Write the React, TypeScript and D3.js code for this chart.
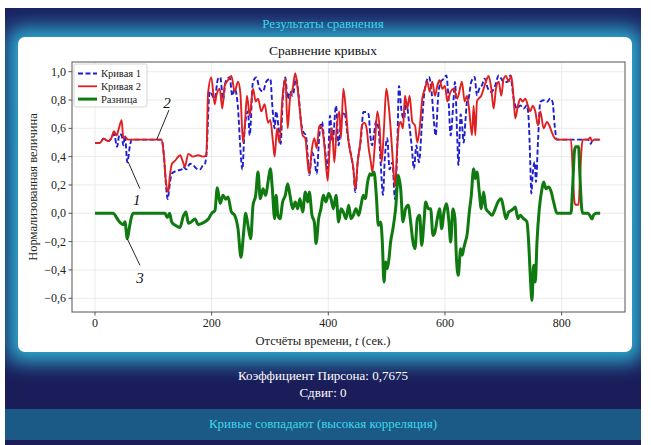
import React from 'react';
import * as d3 from 'd3';

// ---- data (t in samples, normalized values) ----
const curve1T = [0,8.6,14.3,22.9,28,32.6,38,42,45.7,48.6,51.4,55.4,60,63,114.3,118.3,121.7,124.6,128,131.4,140,148.6,151,156.6,162.9,168,176.6,180,185.2,188.6,190.9,196.6,205.2,210.9,214.9,219.5,224,230.9,235.5,239.5,245.2,249.2,252.6,256.6,262.3,265.2,270.9,276.6,282.3,288,293.7,300.6,304,308,310.3,314.9,318.3,321.7,326.3,330.3,334.3,338.9,344.6,349.2,353.2,357.2,361.7,364.6,367.4,372,376,380,384.6,389.2,393.2,398.9,402.9,407.4,413.2,417.7,421.7,427.4,433.2,438.9,442.9,446.3,450.3,456,460,464.6,469,472,475,478,482,486,490,493.7,497,501,505,509.7,514.3,518.3,521.1,525.7,529.7,533.7,538.3,542.8,546.8,550.9,555.4,560,564,568,572.5,577.1,581.1,584,588.5,592.5,598.3,602.3,605.7,609.7,613.7,617.1,621.1,623,626.8,629,632,635,637.7,640.5,645,650.8,654.8,658.8,663.4,668,673.7,679.4,686.2,692,696.5,700.5,706.2,712,717.7,723.4,729.1,734.8,740.5,743.4,746.2,748,750.2,753.7,756,759.4,763.4,769.1,774.8,780.5,784.5,788,792,845,850,853,866];
const curve1V = [0.496,0.496,0.527,0.51,0.53,0.56,0.47,0.56,0.55,0.48,0.55,0.36,0.48,0.52,0.52,0.40,0.20,0.10,0.20,0.28,0.30,0.31,0.33,0.31,0.35,0.34,0.31,0.31,0.34,0.35,0.41,0.86,0.81,0.95,0.96,0.80,0.93,0.96,0.83,0.88,0.74,0.46,0.31,0.60,0.72,0.55,0.93,0.96,0.88,0.86,0.93,0.95,0.76,0.60,0.72,0.60,0.49,0.79,0.96,0.81,0.86,0.83,0.95,0.83,0.645,0.574,0.55,0.41,0.27,0.43,0.386,0.28,0.55,0.645,0.50,0.315,0.69,0.50,0.76,0.48,0.645,0.715,0.55,0.41,0.315,0.15,0.36,0.527,0.715,0.715,0.70,0.55,0.48,0.55,0.65,0.60,0.34,0.13,0.40,0.53,0.31,0.36,0.10,0.48,0.90,0.715,0.668,0.786,0.645,0.48,0.315,0.48,0.36,0.60,0.83,0.927,0.963,0.857,0.645,0.55,0.833,0.927,0.951,0.974,0.833,0.55,0.739,0.927,0.527,0.34,0.70,0.64,0.50,0.65,0.786,0.81,0.927,0.963,0.833,0.88,0.904,0.951,0.88,0.857,0.904,0.974,0.951,0.927,0.927,0.974,0.81,0.739,0.762,0.739,0.762,0.668,0.362,0.14,0.268,0.362,0.221,0.504,0.786,0.798,0.786,0.81,0.786,0.621,0.52,0.52,0.49,0.52,0.52];

const curve2T = [0,8.6,14.3,22.9,28,32.6,37.1,41,45.7,48.6,52,57,114.3,118.3,121.7,125.7,128,132,137,146,151,154,160,168,177,185,190.9,193.8,199.5,205.2,208,213.8,218.3,222.3,228,233.8,239.5,245.2,249.2,253.8,256.6,260.6,265.2,270.9,275.5,279.5,285.2,290.9,296.6,300.6,305.2,308,312,316,321.7,326.3,330.3,334.3,338.9,343.4,347.4,351.4,356,360.6,364.6,367.4,372,376,380,384.6,389.2,393.2,396,398.9,402.9,406.3,410.3,414.3,418.9,421.7,425.7,430.3,434.9,438.9,442.9,446.3,450.3,454.3,457.7,461.7,465.7,469.2,473,475.4,480,484,488,491.4,495.4,499.4,502.8,506.8,510.8,514.3,518.3,521.1,524,528,531.4,535.4,539.4,544,548.6,552.6,556.6,561.1,565.7,569.7,573.7,578.3,582.8,586.8,590.8,595.4,600,604,609.7,615.4,621.1,626.8,629,633.7,637.7,641.7,646.3,649.1,652,654.8,657.7,662.2,666.2,670.2,674.8,679.4,683.4,687.4,692,696.5,700.5,704.5,709.1,713.7,717.7,720.5,725.1,729.1,733.1,737.7,742.2,746.2,750.2,754.8,759.4,763.4,769.1,774.8,778.8,783.4,788,792,816,819,822,824,829,831,834,836,845,849,852,856,866];
const curve2V = [0.496,0.496,0.527,0.51,0.53,0.58,0.55,0.60,0.657,0.53,0.535,0.52,0.52,0.40,0.22,0.15,0.25,0.35,0.37,0.41,0.36,0.33,0.42,0.40,0.41,0.40,0.41,0.845,0.96,0.77,0.83,0.88,0.74,0.90,0.94,0.97,0.86,0.93,0.85,0.50,0.60,0.83,0.69,0.88,0.79,0.81,0.72,0.77,0.64,0.66,0.50,0.40,0.60,0.50,0.83,0.95,0.60,0.81,0.88,0.99,0.88,0.72,0.55,0.53,0.36,0.28,0.46,0.53,0.46,0.62,0.60,0.48,0.34,0.23,0.50,0.60,0.36,0.60,0.72,0.53,0.88,0.72,0.50,0.41,0.32,0.17,0.36,0.48,0.62,0.64,0.60,0.46,0.36,0.29,0.50,0.72,0.60,0.36,0.60,0.88,0.79,0.60,0.36,0.19,0.48,0.62,0.645,0.60,0.83,0.74,0.83,0.645,0.62,0.50,0.60,0.81,0.88,0.93,0.86,0.93,0.83,0.90,0.94,0.88,0.90,0.79,0.86,0.88,0.81,0.90,0.93,0.79,0.83,0.72,0.55,0.76,0.55,0.79,0.81,0.83,0.88,0.93,0.97,0.88,0.74,0.88,0.93,0.83,0.95,0.97,0.93,0.97,0.81,0.67,0.76,0.81,0.79,0.81,0.76,0.72,0.76,0.72,0.62,0.72,0.60,0.645,0.62,0.57,0.53,0.52,0.52,0.30,0.08,0.06,0.06,0.20,0.45,0.52,0.52,0.535,0.51,0.52,0.52];

const diffT = [0,31.4,37,40,44,48.6,51.4,55.4,59,63,66,120,124,128,131.4,136,140,145.7,151.4,156,160,165.2,171.4,177,182.3,188.6,194.3,200,205.7,209.7,214.6,219.5,224,228,233.8,239.5,245.2,250.2,254.9,258.3,262.3,266.9,270.9,275.5,279.5,283.4,288,292.6,296.6,300.6,304,308,310.5,313.5,317.2,321.7,326.3,330.3,334.3,338.9,343.4,347.4,351.4,356,360.6,364.6,367.4,372,376,378.9,383.4,387.4,391.4,396,400.6,404.6,408.6,413.2,417.7,421.7,425.7,430.3,434.9,438.9,442.9,447.4,452,456,460,463.4,467.4,471.4,474.3,478.3,482.3,485.7,489.7,492.6,495.4,498.3,501.1,504,506.8,510.8,515.4,520,524,528,532.5,537.1,541.1,545.1,548.6,552.6,556.6,560,564,566.8,571.4,575.4,579.4,582.8,586.8,590.8,594.3,598.3,602.3,606.8,609.7,613.7,617.1,619.4,622.8,626.8,629.5,632,634.8,637.7,641.7,645.1,649.1,652,654.8,658.8,662.2,666.2,670.2,674.8,680.5,686.2,690.8,696.5,700.5,704.5,709.1,713.7,717.7,720.5,725.1,729.1,734.8,740.5,743.4,746.2,749.1,752,754.8,757.7,761.7,766.3,769.1,773.1,777.7,782.2,786.2,792,816,819,822,824,829,831,834,836,845,849,852,855,860,866];
const diffV = [0,0,-0.03,-0.05,-0.07,-0.08,-0.06,-0.18,-0.10,-0.02,0,0,-0.03,0,-0.06,-0.08,-0.09,-0.10,-0.02,0.01,-0.07,-0.06,-0.04,-0.08,-0.073,-0.06,-0.04,0,0.02,0.18,0.07,0.127,0.10,0.115,0.01,-0.014,-0.11,-0.31,-0.132,0,-0.085,-0.18,0.056,0.127,0.292,0.103,0.174,0.127,0.221,0.315,0.174,-0.038,0.127,-0.014,-0.038,0.08,0.127,0.209,0.127,0.033,0.08,0.033,0.103,0.009,0.15,0.08,0.15,-0.014,-0.061,-0.214,-0.038,0.033,0.127,0.08,0.139,0.103,0.033,0.127,-0.061,0.033,0.009,-0.038,0.056,-0.038,-0.014,0.033,-0.014,0.056,0.127,0.103,0.221,0.28,0.268,0.292,0.127,-0.085,-0.061,-0.203,-0.485,-0.344,-0.391,-0.32,-0.203,-0.109,0.033,0.268,0.174,-0.061,0.033,0.056,-0.061,-0.203,-0.25,-0.038,-0.014,-0.226,-0.061,0.08,0.033,0.033,-0.156,-0.132,-0.038,0.033,-0.109,0.009,0.068,-0.061,-0.203,0.033,-0.038,-0.297,-0.438,-0.25,-0.297,-0.25,-0.203,-0.156,0.009,0.127,0.315,0.245,0.292,0.15,0.033,0.15,0.033,0.009,-0.014,0.033,0.08,0.103,0.033,-0.038,0.009,0.02,0.033,0.045,-0.038,-0.014,-0.038,-0.061,-0.203,-0.438,-0.615,-0.367,-0.485,-0.203,0.033,0.174,0.221,0.174,0.186,0.15,0.08,0,0,0.2,0.44,0.47,0.47,0.30,0.05,0,0,-0.02,-0.04,-0.01,0,0];

const xTicks = [0, 200, 400, 600, 800];
const yTicks = [1.0, 0.8, 0.6, 0.4, 0.2, 0.0, -0.2, -0.4, -0.6];
const seriesNames = ['Кривая 1', 'Кривая 2', 'Разница'];
const pearson = '0,7675';
const shift = 0;

// annotations: [label, anchorT, anchorV, endT, endV, textT, textV]
const annotations: [string, number, number, number, number, number, number][] = [
  ['1', 57, 0.362, 77, 0.174, 71.5, 0.094],
  ['2', 105.8, 0.52, 126.9, 0.73, 123.4, 0.78],
  ['3', 55.4, -0.18, 77.1, -0.367, 77, -0.46],
];

const SERIF = "'Liberation Serif', 'Times New Roman', serif";

export default function App() {
  const W = 651, H = 445;
  const L = 72, R = 625, T = 62, B = 312;
  const x = d3.scaleLinear().domain([-39.4, 908.6]).range([L, R]);
  const y = d3.scaleLinear().domain([-0.697, 1.0685]).range([B, T]);
  const mk = (ts: number[], vs: number[]) => {
    const pts: [number, number][] = ts.map((t, i) => [t, vs[i]]);
    return d3.line<[number, number]>().x(d => x(d[0])).y(d => y(d[1])).curve(d3.curveMonotoneX)(pts) || '';
  };
  const p1 = mk(curve1T, curve1V);
  const p2 = mk(curve2T, curve2V);
  const pd = mk(diffT, diffV);
  const fmt = (v: number) => d3.format('.1f')(v).replace('.', ',').replace('-', '−').replace('−0,0', '0,0');

  const legendItems = [
    { name: seriesNames[0], color: '#1f1fd0', w: 1.8, dash: '5,2.5' },
    { name: seriesNames[1], color: '#e02020', w: 1.8, dash: '' },
    { name: seriesNames[2], color: '#0f7a0f', w: 3, dash: '' },
  ];

  return (
    <svg width={W} height={H} style={{ position: 'absolute', left: 0, top: 0, fontFamily: SERIF }}>
      <defs>
        <filter id="glow" x="-20%" y="-30%" width="140%" height="160%">
          <feGaussianBlur stdDeviation="10" />
        </filter>
        <linearGradient id="bg" x1="0" y1="0" x2="0" y2="1">
          <stop offset="0" stopColor="#1b2262" />
          <stop offset="1" stopColor="#1b1c58" />
        </linearGradient>
        <clipPath id="plotclip">
          <rect x={L} y={T} width={R - L} height={B - T} />
        </clipPath>
      </defs>
      <rect x={0} y={0} width={W} height={H} fill="#ffffff" />
      <rect x={5} y={8} width={636} height={437} fill="url(#bg)" />
      <g clipPath="none">
        <rect x={8} y={28} width={634} height={334} rx={10} fill="#2fb6d8" filter="url(#glow)" opacity={0.95} />
      </g>
      <rect x={0} y={0} width={5} height={H} fill="#ffffff" />
      <rect x={641} y={0} width={10} height={H} fill="#ffffff" />
      <rect x={0} y={0} width={W} height={8} fill="#ffffff" />
      <text x={323} y={28} textAnchor="middle" fontSize={13} fill="#3fd8ea">Результаты сравнения</text>

      {/* card */}
      <rect x={18} y={37} width={614} height={315} rx={7} fill="#ffffff" />
      <text x={323} y={55} textAnchor="middle" fontSize={13.5} fill="#111">Сравнение кривых</text>

      {/* grid */}
      {xTicks.map(t => (
        <line key={'gx' + t} x1={x(t)} x2={x(t)} y1={T} y2={B} stroke="#e4e4e4" strokeWidth={0.8} />
      ))}
      {yTicks.map(v => (
        <line key={'gy' + v} x1={L} x2={R} y1={y(v)} y2={y(v)} stroke="#e4e4e4" strokeWidth={0.8} />
      ))}

      {/* series */}
      <g clipPath="url(#plotclip)" fill="none" strokeLinejoin="round">
        <path d={p1} stroke="#1f1fd0" strokeWidth={1.9} strokeDasharray="5,2.5" />
        <path d={p2} stroke="#e02020" strokeWidth={1.9} />
        <path d={pd} stroke="#0f7a0f" strokeWidth={3} />
      </g>

      {/* frame */}
      <rect x={L} y={T} width={R - L} height={B - T} fill="none" stroke="#555" strokeWidth={1} />

      {/* ticks */}
      {xTicks.map(t => (
        <g key={'xt' + t}>
          <line x1={x(t)} x2={x(t)} y1={B} y2={B + 3.5} stroke="#555" />
          <text x={x(t)} y={B + 15} textAnchor="middle" fontSize={12} fill="#222">{t}</text>
        </g>
      ))}
      {yTicks.map(v => (
        <g key={'yt' + v}>
          <line x1={L - 3.5} x2={L} y1={y(v)} y2={y(v)} stroke="#555" />
          <text x={L - 6} y={y(v) + 4} textAnchor="end" fontSize={12} fill="#222">{fmt(v)}</text>
        </g>
      ))}

      <text x={323} y={345} textAnchor="middle" fontSize={12.5} fill="#222">
        Отсчёты времени, <tspan fontStyle="italic">t</tspan> (сек.)
      </text>
      <text transform={`translate(37,${(T + B) / 2}) rotate(-90)`} textAnchor="middle" fontSize={12.5} fill="#222">
        Нормализованная величина
      </text>

      {/* annotations */}
      {annotations.map(a => (
        <g key={'an' + a[0]}>
          <line x1={x(a[1])} y1={y(a[2])} x2={x(a[3])} y2={y(a[4])} stroke="#111" strokeWidth={0.9} />
          <text x={x(a[5])} y={y(a[6]) + 5} textAnchor="middle" fontSize={15} fontStyle="italic" fill="#111">{a[0]}</text>
        </g>
      ))}

      {/* legend */}
      <rect x={74} y={64} width={73} height={43} rx={2} fill="#fff" fillOpacity={0.85} stroke="#ccc" strokeWidth={0.8} />
      {legendItems.map((it, i) => (
        <g key={'lg' + i}>
          <line x1={78} x2={97} y1={73.5 + i * 12.8} y2={73.5 + i * 12.8} stroke={it.color} strokeWidth={it.w} strokeDasharray={it.dash || undefined} />
          <text x={101} y={77 + i * 12.8} fontSize={10.5} fill="#222">{it.name}</text>
        </g>
      ))}

      {/* stats */}
      <text x={323} y={380} textAnchor="middle" fontSize={13} fill="#ffffff">Коэффициент Пирсона: {pearson}</text>
      <text x={323} y={397} textAnchor="middle" fontSize={13} fill="#ffffff">Сдвиг: {shift}</text>

      <rect x={5} y={409} width={636} height={31} fill="#1b5a86" />
      <text x={323} y={428} textAnchor="middle" fontSize={13} fill="#3fd8ea">Кривые совпадают (высокая корреляция)</text>
    </svg>
  );
}
